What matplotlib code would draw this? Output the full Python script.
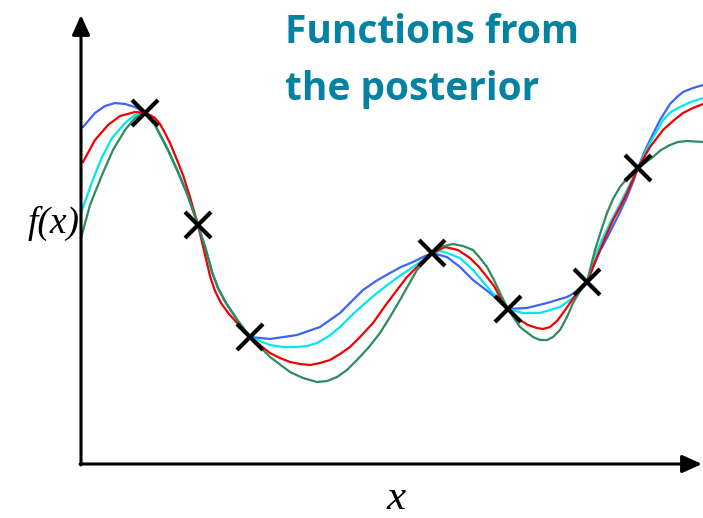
import matplotlib
matplotlib.use("Agg")
import matplotlib.pyplot as plt

obs_x = [64, 117, 169, 351, 427, 506, 557]
obs_y = [351, 239, 127, 211, 155, 182, 296]

blue_x = [2, 14, 24, 34, 44, 54, 64, 74, 87, 97, 107, 117, 125, 131, 137, 145, 157, 169, 189, 216, 239,
          259, 270, 282, 295, 309, 320, 332, 342, 351, 366, 379, 392, 409, 427, 446, 466, 486, 499, 506,
          513, 519, 526, 532, 539, 546, 552, 557, 563, 569, 579, 589, 596, 602, 612, 622]
blue_y = [337, 351, 358, 361, 360, 357, 351, 339, 314, 292, 268, 239, 214, 192, 176, 161, 143, 127, 125,
          129, 137, 151, 162, 174, 183, 191, 197, 202, 207, 211, 207, 197, 184, 171, 155, 156, 161, 167,
          174, 182, 199, 213, 226, 238, 252, 267, 282, 296, 311, 324, 344, 360, 367, 372, 376, 379]

cyan_x = [1, 11, 21, 31, 44, 54, 64, 74, 87, 97, 107, 117, 125, 131, 137, 145, 157, 169, 189, 202, 216,
          226, 236, 248, 259, 270, 282, 296, 309, 320, 332, 342, 351, 359, 366, 379, 392, 409, 427, 442,
          459, 479, 496, 506, 512, 520, 529, 538, 546, 557, 569, 582, 590, 599, 610, 622]
cyan_y = [254, 282, 307, 326, 341, 349, 351, 339, 314, 292, 268, 239, 214, 192, 176, 161, 143, 127, 119,
          117, 117, 118, 121, 128, 137, 148, 159, 171, 181, 189, 197, 204, 211, 213, 211, 206, 194, 174,
          155, 151, 151, 157, 169, 182, 204, 222, 241, 258, 274, 296, 321, 344, 352, 357, 362, 366]

red_x = [2, 14, 27, 39, 54, 64, 69, 74, 79, 84, 89, 94, 102, 109, 117, 121, 125, 129, 134, 140, 148, 158,
         169, 180, 189, 199, 209, 219, 229, 239, 249, 259, 269, 280, 292, 304, 316, 326, 336, 344, 351,
         364, 377, 389, 398, 406, 413, 419, 427, 439, 447, 456, 462, 469, 476, 482, 489, 496, 506, 516,
         524, 532, 539, 546, 557, 569, 582, 592, 602, 612, 622]
red_y = [302, 324, 339, 348, 352, 351, 349, 346, 340, 331, 321, 309, 289, 267, 239, 222, 205, 188, 173,
         161, 150, 139, 127, 118, 111, 106, 102, 100, 99, 101, 104, 110, 117, 128, 141, 158, 174, 187,
         197, 205, 211, 217, 214, 206, 197, 187, 178, 167, 155, 144, 139, 136, 135, 137, 143, 151, 161,
         171, 182, 207, 226, 244, 257, 271, 296, 317, 334, 343, 351, 356, 360]

green_x = [0, 9, 21, 32, 44, 54, 64, 74, 87, 97, 107, 117, 125, 131, 137, 145, 157, 169, 189, 209, 222,
           236, 246, 256, 266, 276, 288, 299, 309, 319, 328, 336, 344, 351, 359, 372, 382, 392, 399, 406,
           413, 419, 427, 439, 452, 459, 466, 472, 479, 486, 492, 499, 506, 510, 514, 520, 526, 532, 539,
           548, 557, 572, 580, 589, 597, 606, 622]
green_y = [226, 259, 289, 314, 334, 346, 351, 339, 314, 292, 268, 239, 214, 192, 176, 161, 143, 127, 107,
           92, 86, 82, 83, 87, 94, 104, 117, 131, 147, 164, 180, 194, 203, 211, 217, 220, 218, 214, 206,
           197, 184, 171, 155, 137, 127, 124, 124, 127, 134, 147, 161, 173, 182, 198, 214, 233, 251, 265,
           277, 288, 296, 307, 314, 319, 322, 323, 322]

fig = plt.figure(figsize=(7.03, 5.18), dpi=100)
ax = fig.add_axes([0, 0, 1, 1])
ax.set_xlim(-81, 622)
ax.set_ylim(-54, 464)
ax.axis("off")

# axes with arrow heads
arrow = dict(arrowstyle="-|>,head_length=0.6,head_width=0.27", lw=2.2, color="black",
             mutation_scale=20, shrinkA=0, shrinkB=0)
ax.annotate("", xy=(0, 449), xytext=(0, -1), arrowprops=arrow)
ax.annotate("", xy=(621, 0), xytext=(-1, 0), arrowprops=arrow)

ax.plot(blue_x, blue_y, color="#3f63f2", lw=1.6, solid_joinstyle="round")
ax.plot(cyan_x, cyan_y, color="#00e8ee", lw=1.6, solid_joinstyle="round")
ax.plot(red_x, red_y, color="#f00000", lw=1.6, solid_joinstyle="round")
ax.plot(green_x, green_y, color="#2e8b5c", lw=1.6, solid_joinstyle="round")

ax.plot(obs_x, obs_y, "x", color="black", markersize=19, mew=3, zorder=5)

fig.text(285 / 703, 1 - 43 / 518, "Functions from", fontsize=28, fontweight="bold",
         family="Open Sans", color="#0382a2", va="baseline", ha="left")
fig.text(285 / 703, 1 - 100 / 518, "the posterior", fontsize=28, fontweight="bold",
         family="Open Sans", color="#0382a2", va="baseline", ha="left")

fig.text(80 / 703, 1 - 233 / 518, "f(x)", fontsize=27, style="italic",
         family="Liberation Serif", va="baseline", ha="right")
fig.text(396 / 703, 1 - 509 / 518, "x", fontsize=31, style="italic",
         family="Liberation Serif", va="baseline", ha="center")

fig.savefig("out.png", dpi=100)
